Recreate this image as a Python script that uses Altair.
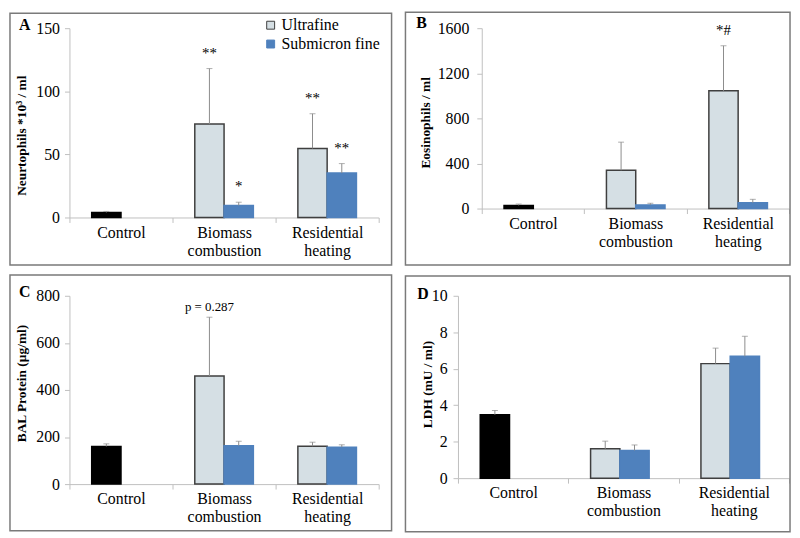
import altair as alt
import pandas as pd

categories = ["Control", "Biomass combustion", "Residential heating"]
series = ["Control", "Ultrafine", "Submicron fine"]
slots = ["Ultrafine", "Submicron fine"]
treated = ["Biomass combustion", "Residential heating"]

# Panel A - Neutrophils
a_control = 4.0
a_control_err = 0.8
a_ultrafine = [74.0, 54.7]
a_ultrafine_err = [44.0, 27.5]
a_submicron = [9.5, 35.2]
a_submicron_err = [2.6, 7.5]
a_ultrafine_notes = ["**", "**"]
a_submicron_notes = ["*", "**"]
a_ticks = [0, 50, 100, 150]

# Panel B - Eosinophils
b_control = 28.0
b_control_err = 12.0
b_ultrafine = [339.0, 1044.0]
b_ultrafine_err = [250.0, 400.0]
b_submicron = [32.0, 52.0]
b_submicron_err = [15.0, 30.0]
b_ultrafine_notes = ["", "*#"]
b_submicron_notes = ["", ""]
b_ticks = [0, 400, 800, 1200, 1600]

# Panel C - BAL protein
c_control = 160.0
c_control_err = 11.0
c_ultrafine = [459.0, 161.0]
c_ultrafine_err = [250.0, 17.0]
c_submicron = [163.0, 157.0]
c_submicron_err = [19.0, 10.0]
c_ultrafine_notes = ["p = 0.287", ""]
c_submicron_notes = ["", ""]
c_ticks = [0, 200, 400, 600, 800]

# Panel D - LDH
d_control = 3.48
d_control_err = 0.23
d_ultrafine = [1.61, 6.28]
d_ultrafine_err = [0.42, 0.85]
d_submicron = [1.52, 6.68]
d_submicron_err = [0.30, 1.10]
d_ultrafine_notes = ["", ""]
d_submicron_notes = ["", ""]
d_ticks = [0, 2, 4, 6, 8, 10]

FONT = "Liberation Serif, Times New Roman, Times, DejaVu Serif, serif"
AXIS_COLOR = "#bfbfbf"
ERR_COLOR = "#8c8c8c"
BORDER = "#7a7a7a"
FILLS = ["#000000", "#d5dfe4", "#4f81bd"]
STROKES = ["#000000", "#3f3f3f", "#4f81bd"]


def make_df(ctrl, ctrl_err, uf, uf_err, sm, sm_err, uf_notes, sm_notes):
    rows = [dict(category="Control", slot="Ultrafine", series="Control",
                 value=ctrl, upper=ctrl + ctrl_err, note="")]
    for i, cat in enumerate(treated):
        rows.append(dict(category=cat, slot="Ultrafine", series="Ultrafine",
                         value=uf[i], upper=uf[i] + uf_err[i], note=uf_notes[i]))
        rows.append(dict(category=cat, slot="Submicron fine", series="Submicron fine",
                         value=sm[i], upper=sm[i] + sm_err[i], note=sm_notes[i]))
    return pd.DataFrame(rows)


def panel(df, letter, ytitle, ymax, yticks, width, height, rect, title_xy,
          label_pad, letter_xy, note_dy, note_size, offset_pad, legend=False):
    xaxis = alt.Axis(title=None, labelAngle=0, labelExpr="split(datum.label, ' ')",
                     tickBand="extent", tickSize=5, labelPadding=2, labelFontSize=16,
                     labelLineHeight=18, labelBaseline="top", domainColor=AXIS_COLOR,
                     tickColor=AXIS_COLOR, labelColor="#000000", labelFont=FONT,
                     labelOverlap=False)
    yaxis = alt.Axis(title=ytitle, values=yticks, format="d", grid=False, tickSize=5,
                     labelPadding=label_pad, labelFontSize=16, labelFont=FONT,
                     labelColor="#000000", domainColor=AXIS_COLOR, tickColor=AXIS_COLOR,
                     titleX=title_xy[0], titleY=title_xy[1], titleAngle=270,
                     titleAlign="center", titleBaseline="middle", titleFont=FONT,
                     titleFontWeight="bold", titleFontSize=13.5, titleColor="#000000")
    xs = alt.Scale(domain=categories, paddingInner=0, paddingOuter=0)
    ys = alt.Scale(domain=[0, ymax], nice=False, zero=True)

    def X():
        return alt.X("category:N", scale=xs, axis=xaxis)

    def XO():
        return alt.XOffset("slot:N", scale=alt.Scale(domain=slots, paddingOuter=offset_pad,
                                                      paddingInner=0))

    def Y(field):
        return alt.Y(field + ":Q", scale=ys, axis=yaxis)

    fill_kwargs = dict(scale=alt.Scale(domain=series, range=FILLS))
    if legend:
        fill_kwargs["legend"] = alt.Legend(
            title=None, values=slots, orient="none", legendX=195, legendY=-11,
            symbolType="square", symbolSize=64, labelFontSize=16,
            labelFont=FONT, labelColor="#000000", symbolStrokeColor="#595959",
            symbolStrokeWidth=1, rowPadding=3, padding=0, labelOffset=3)
    else:
        fill_kwargs["legend"] = None

    base = alt.Chart(df)
    bars = base.mark_bar(strokeWidth=1.5).encode(
        x=X(), xOffset=XO(), y=Y("value"),
        fill=alt.Fill("series:N", **fill_kwargs),
        stroke=alt.Stroke("series:N", scale=alt.Scale(domain=series, range=STROKES), legend=None),
    )
    rules = base.mark_rule(color=ERR_COLOR, strokeWidth=1).encode(
        x=X(), xOffset=XO(), y=Y("value"), y2="upper:Q")
    caps = base.mark_tick(color=ERR_COLOR, thickness=1, size=6, orient="horizontal").encode(
        x=X(), xOffset=XO(), y=Y("upper"))
    notes = base.transform_filter("datum.note != ''").mark_text(
        dy=note_dy, fontSize=note_size, font=FONT, baseline="alphabetic", color="#000000"
    ).encode(x=X(), xOffset=XO(), y=Y("upper"), text="note:N")
    letter_layer = alt.Chart(pd.DataFrame({"letter": [letter]})).mark_text(
        align="left", baseline="alphabetic", fontWeight="bold", fontSize=16, font=FONT,
        color="#000000"
    ).encode(x=alt.value(letter_xy[0]), y=alt.value(letter_xy[1]), text="letter:N")
    border = alt.Chart(pd.DataFrame({"k": [0]})).mark_rect(
        fillOpacity=0, stroke=BORDER, strokeWidth=1.5, clip=False
    ).encode(x=alt.value(rect[0]), x2=alt.value(rect[1]),
             y=alt.value(rect[2]), y2=alt.value(rect[3]))
    return alt.layer(border, bars, rules, caps, notes, letter_layer).properties(
        width=width, height=height)


df_a = make_df(a_control, a_control_err, a_ultrafine, a_ultrafine_err, a_submicron,
               a_submicron_err, a_ultrafine_notes, a_submicron_notes)
df_b = make_df(b_control, b_control_err, b_ultrafine, b_ultrafine_err, b_submicron,
               b_submicron_err, b_ultrafine_notes, b_submicron_notes)
df_c = make_df(c_control, c_control_err, c_ultrafine, c_ultrafine_err, c_submicron,
               c_submicron_err, c_ultrafine_notes, c_submicron_notes)
df_d = make_df(d_control, d_control_err, d_ultrafine, d_ultrafine_err, d_submicron,
               d_submicron_err, d_ultrafine_notes, d_submicron_notes)

pa = panel(df_a, "A", "Neurtophils *10³ / ml", 150, a_ticks, 312, 191,
           (-60, 325, -15, 239), (-48, 108), 5, (-51, 2), -11, 15, 0.76, legend=True)
pb = panel(df_b, "B", "Eosinophils / ml", 1600, b_ticks, 310, 182,
           (-77, 311, -16, 239), (-57, 95), 8, (-66, 0), -11, 15, 0.76)
pc = panel(df_c, "C", "BAL Protein (µg/ml)", 800, c_ticks, 312, 190,
           (-60, 325, -21, 237), (-48, 88), 5, (-51, 1), -6, 13, 0.76)
pd_ = panel(df_d, "D", "LDH (mU / ml)", 10, d_ticks, 334, 184,
            (-53, 335, -20, 238), (-31, 89), 6, (-41, 3), -8, 15, 0.72)

row1 = alt.hconcat(pa, pb, spacing=10).resolve_scale(fill="independent", stroke="independent")
row2 = alt.hconcat(pc, pd_, spacing=10).resolve_scale(fill="independent", stroke="independent")
chart = alt.vconcat(row1, row2, spacing=6).resolve_scale(
    fill="independent", stroke="independent"
).properties(
    padding={"left": 0, "top": 0, "right": 0, "bottom": 0}
).configure(
    padding={"left": 0, "top": 0, "right": 0, "bottom": 0}, font=FONT
).configure_view(stroke="transparent").configure_axis(
    labelFont=FONT, titleFont=FONT
).configure_legend(labelFont=FONT).configure_text(font=FONT)

chart.save("out.html", embed_options={"renderer": "svg", "actions": False})
